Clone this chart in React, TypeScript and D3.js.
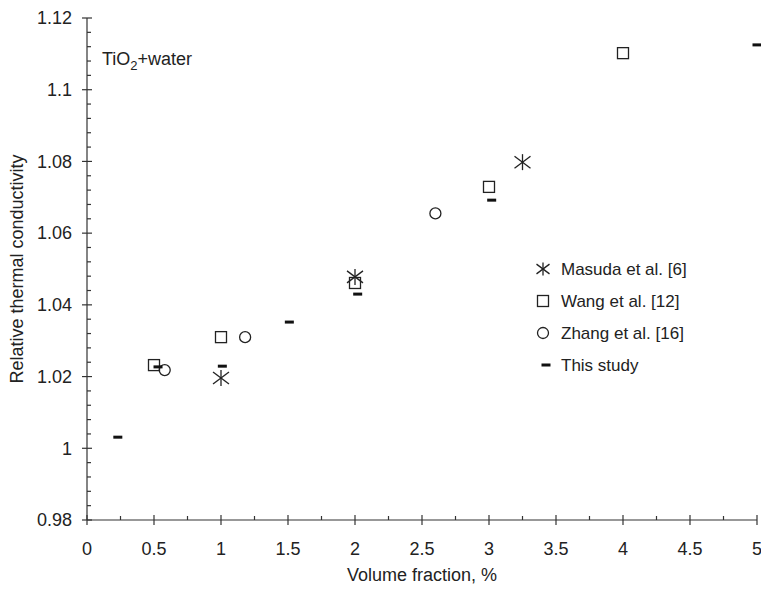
import React from "react";
import * as d3 from "d3";

// values
const masudaX = [1, 2, 3.25];
const masudaY = [1.0196, 1.0478, 1.0798];

const wangX = [0.5, 1, 2, 3, 4];
const wangY = [1.0232, 1.031, 1.0461, 1.0729, 1.1102];

const zhangX = [0.58, 1.18, 2.6];
const zhangY = [1.0218, 1.031, 1.0655];

const studyX = [0.23, 0.53, 1.01, 1.51, 2.02, 3.02, 5];
const studyY = [1.0031, 1.0227, 1.0229, 1.0352, 1.043, 1.0692, 1.1125];

const xTicks = [0, 0.5, 1, 1.5, 2, 2.5, 3, 3.5, 4, 4.5, 5];
const yTicks = [0.98, 1, 1.02, 1.04, 1.06, 1.08, 1.1, 1.12];

const legendLabels = ["Masuda et al. [6]", "Wang et al. [12]", "Zhang et al. [16]", "This study"];

const W = 761;
const H = 589;
const margin = { top: 18, right: 4, bottom: 69, left: 87 };
const font = "'Liberation Sans', Arial, Helvetica, sans-serif";
const ink = "#222";

const Asterisk = ({ x, y, s = 8 }: { x: number; y: number; s?: number }) => (
  <g stroke={ink} strokeWidth={1.3}>
    <line x1={x} y1={y - s} x2={x} y2={y + s} />
    <line x1={x - s} y1={y - s * 0.75} x2={x + s} y2={y + s * 0.75} />
    <line x1={x - s} y1={y + s * 0.75} x2={x + s} y2={y - s * 0.75} />
  </g>
);

const Square = ({ x, y }: { x: number; y: number }) => (
  <rect x={x - 5.5} y={y - 5.5} width={11} height={11} fill="none" stroke={ink} strokeWidth={1.3} />
);

const Circle = ({ x, y }: { x: number; y: number }) => (
  <circle cx={x} cy={y} r={5.5} fill="none" stroke={ink} strokeWidth={1.3} />
);

const Dash = ({ x, y }: { x: number; y: number }) => (
  <rect x={x - 4.5} y={y - 1.5} width={9} height={3} fill="#111" />
);

export default function App() {
  const x = d3.scaleLinear().domain([0, 5]).range([margin.left, W - margin.right]);
  const y = d3.scaleLinear().domain([0.98, 1.12]).range([H - margin.bottom, margin.top]);

  const xMinor = d3.range(0.25, 5, 0.5);
  const yMinor = d3.range(0, 35).map((i) => 0.98 + i * 0.004).filter((_, i) => i % 5 !== 0);

  const x0 = x(0);
  const y0 = y(0.98);

  return (
    <svg
      width={W}
      height={H}
      style={{ position: "absolute", left: 0, top: 0, background: "#fff" }}
      fontFamily={font}
    >
      {/* axes */}
      <g stroke="#333" strokeWidth={1.2}>
        <line x1={x0} y1={y(1.12)} x2={x0} y2={y0} />
        <line x1={x0} y1={y0} x2={x(5)} y2={y0} />
        {xTicks.map((t) => (
          <line key={"xt" + t} x1={x(t)} x2={x(t)} y1={y0 - 5} y2={y0 + 5} />
        ))}
        {xMinor.map((t) => (
          <line key={"xm" + t} x1={x(t)} x2={x(t)} y1={y0 - 4} y2={y0} />
        ))}
        {yTicks.map((t) => (
          <line key={"yt" + t} x1={x0 - 5} x2={x0 + 5} y1={y(t)} y2={y(t)} />
        ))}
        {yMinor.map((t) => (
          <line key={"ym" + t} x1={x0} x2={x0 + 4} y1={y(t)} y2={y(t)} />
        ))}
      </g>

      <g fill={ink} fontSize={18}>
        {xTicks.map((t) => (
          <text key={"xl" + t} x={x(t)} y={y0 + 35} textAnchor="middle">
            {String(t)}
          </text>
        ))}
        {yTicks.map((t) => (
          <text key={"yl" + t} x={x0 - 15} y={y(t)} dy="0.35em" textAnchor="end">
            {d3.format("~g")(t)}
          </text>
        ))}
        <text x={(x0 + x(5)) / 2} y={H - 8} textAnchor="middle">
          Volume fraction, %
        </text>
        <text
          transform={`translate(23, ${(y(1.12) + y0) / 2}) rotate(-90)`}
          textAnchor="middle"
        >
          Relative thermal conductivity
        </text>
        <text x={102} y={65}>
          TiO
          <tspan fontSize={13} dy={5}>2</tspan>
          <tspan dy={-5}>+water</tspan>
        </text>
      </g>

      {/* data */}
      {wangX.map((v, i) => (
        <Square key={"w" + i} x={x(v)} y={y(wangY[i])} />
      ))}
      {zhangX.map((v, i) => (
        <Circle key={"z" + i} x={x(v)} y={y(zhangY[i])} />
      ))}
      {studyX.map((v, i) => (
        <Dash key={"s" + i} x={x(v)} y={y(studyY[i])} />
      ))}
      {masudaX.map((v, i) => (
        <Asterisk key={"m" + i} x={x(v)} y={y(masudaY[i])} />
      ))}

      {/* legend */}
      <g fontSize={17} fill={ink}>
        {legendLabels.map((label, i) => {
          const ly = 269 + i * 32;
          const lx = 543;
          return (
            <g key={label}>
              {i === 0 && <Asterisk x={lx} y={ly} s={6.5} />}
              {i === 1 && <Square x={lx} y={ly} />}
              {i === 2 && <Circle x={lx} y={ly} />}
              {i === 3 && <Dash x={lx + 3} y={ly} />}
              <text x={lx + 18} y={ly} dy="0.35em">
                {label}
              </text>
            </g>
          );
        })}
      </g>
    </svg>
  );
}
